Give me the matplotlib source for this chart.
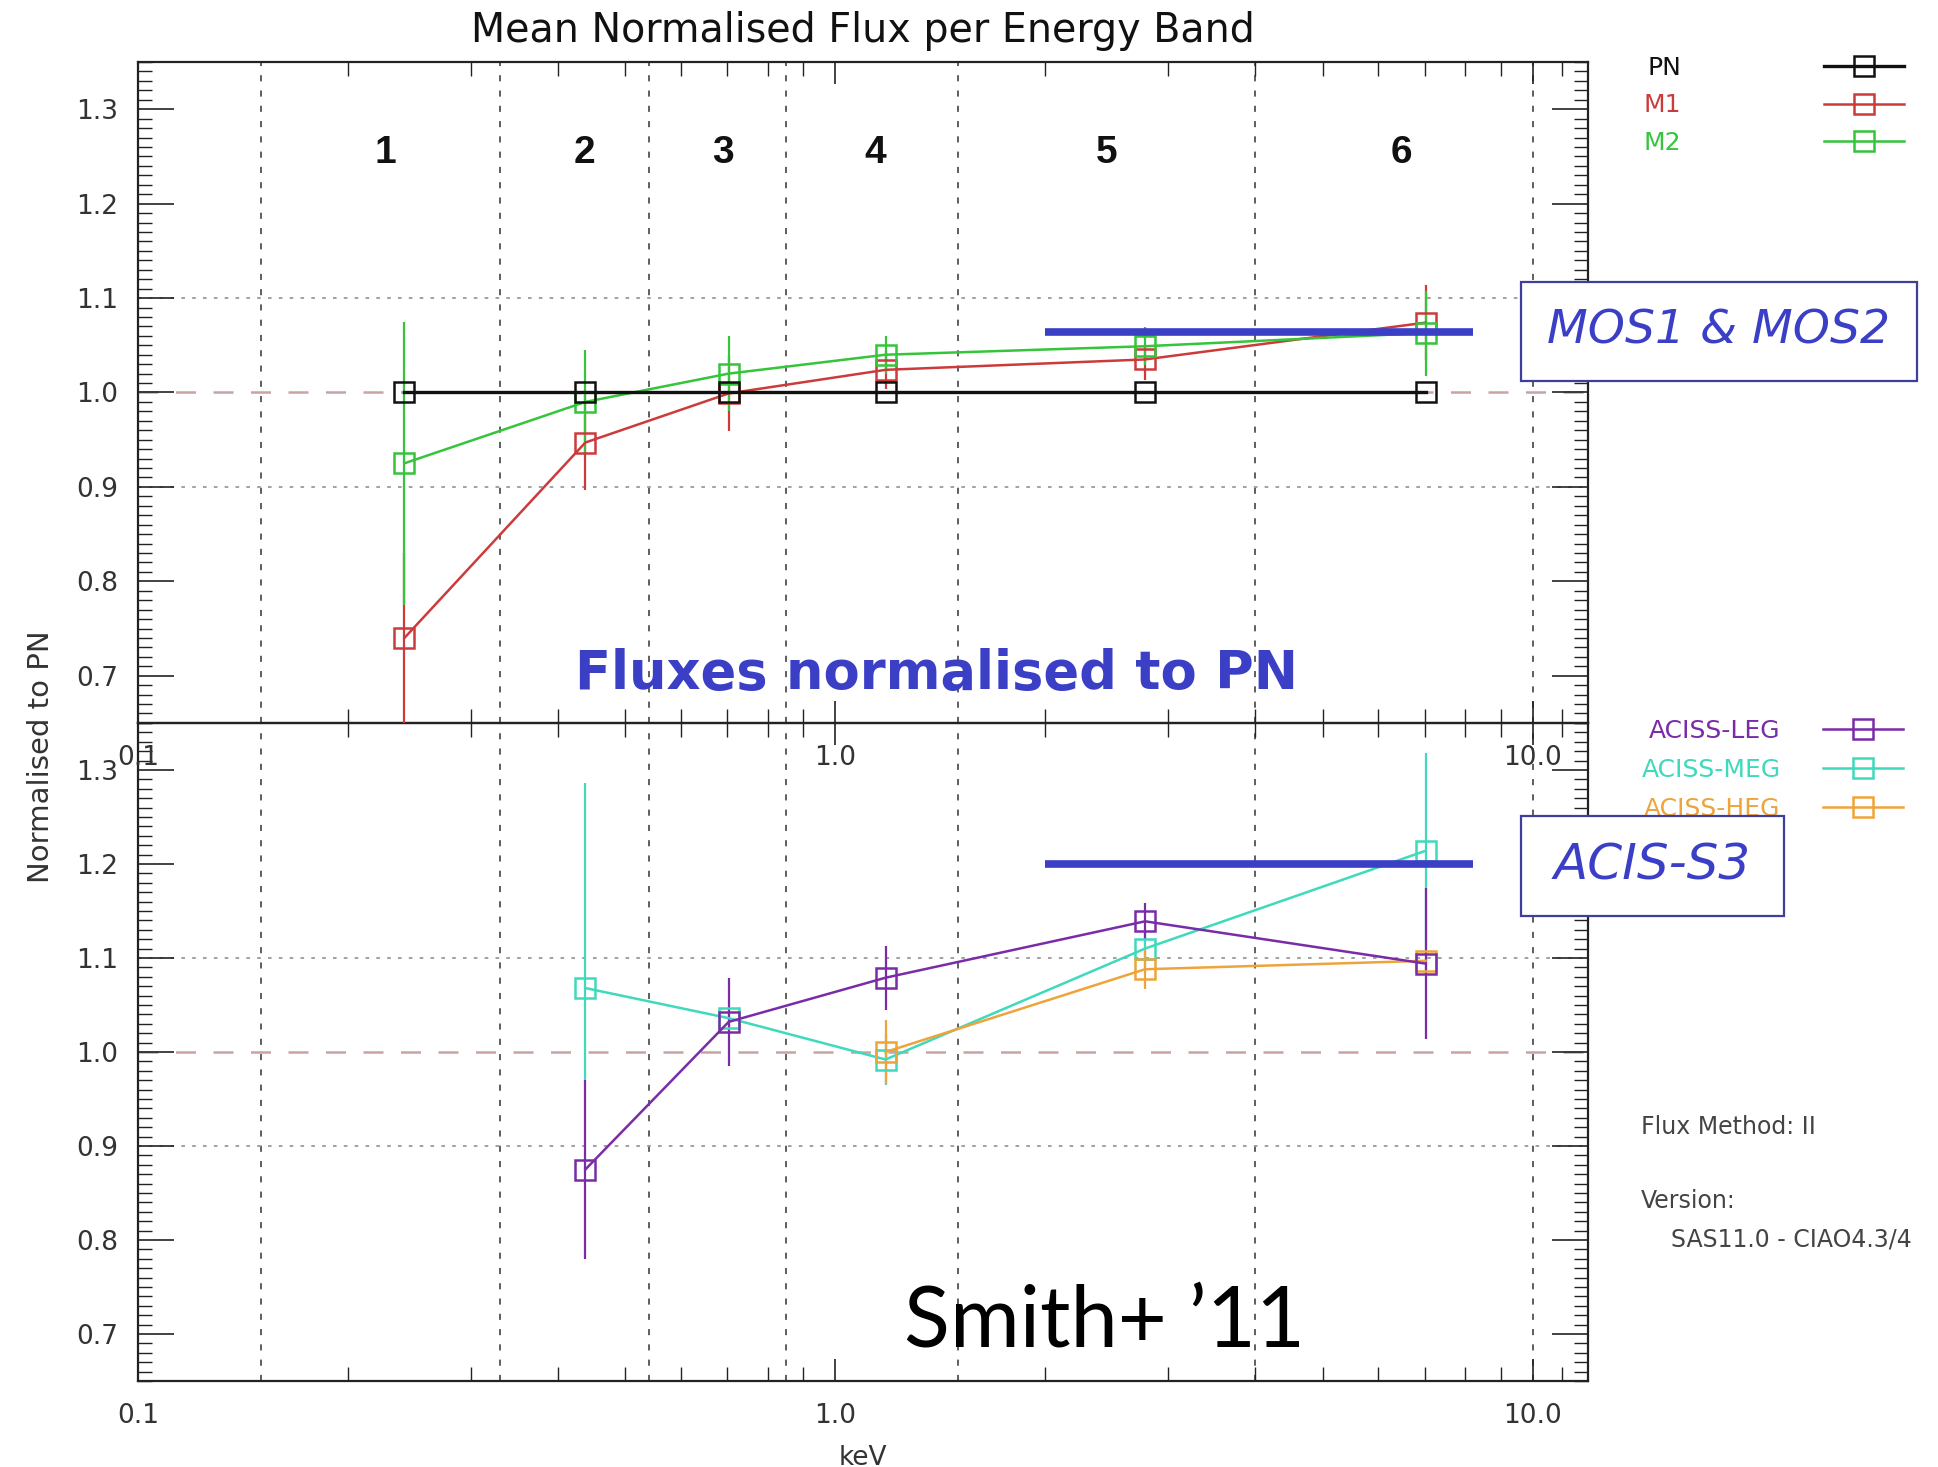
"""Mean normalised flux per energy band (XMM / Chandra cross-calibration)."""

import matplotlib

matplotlib.use("Agg")

import matplotlib.pyplot as plt
from matplotlib.patches import Rectangle
from matplotlib.ticker import FixedLocator, FormatStrFormatter, MultipleLocator, NullFormatter


# --- data ------------------------------------------------------------------
band_edges = [0.15, 0.33, 0.54, 0.85, 1.5, 4.0, 10.0]
band_names = ["1", "2", "3", "4", "5", "6"]
band_label_kev = [0.226, 0.437, 0.69, 1.14, 2.45, 6.47]

energy = [0.241, 0.438, 0.703, 1.18, 2.78, 7.02]

pn_ratio = [1.0, 1.0, 1.0, 1.0, 1.0, 1.0]
m1_ratio = [0.740, 0.947, 0.999, 1.024, 1.035, 1.074]
m1_err_lo = [0.15, 0.05, 0.04, 0.02, 0.022, 0.04]
m1_err_hi = [0.09, 0.05, 0.04, 0.02, 0.015, 0.04]
m2_ratio = [0.925, 0.990, 1.020, 1.040, 1.049, 1.063]
m2_err = [0.15, 0.055, 0.04, 0.02, 0.02, 0.045]

acis_energy = energy[1:]
leg_ratio = [0.875, 1.032, 1.079, 1.139, 1.094]
leg_err = [0.095, 0.047, 0.034, 0.02, 0.08]
meg_ratio = [1.068, 1.036, 0.992, 1.110, 1.214]
meg_err_lo = [0.098, 0.01, 0.027, 0.02, 0.104]
meg_err_hi = [0.218, 0.01, 0.027, 0.02, 0.104]
heg_energy = energy[3:]
heg_ratio = [1.000, 1.088, 1.097]
heg_err = [0.034, 0.021, 0.01]

highlight_span = [2.0, 8.2]
mos_level = 1.064
acis_level = 1.2

x_ticks = [0.1, 1.0, 10.0]
x_ticklabels = ["0.1", "1.0", "10.0"]

BLUE = "#3b3fc6"
TEXT_GREY = "#333333"


def style_axis(ax):
    ax.set_xscale("log")
    ax.set_xlim(0.1, 12.0)
    ax.set_ylim(0.65, 1.35)
    ax.xaxis.set_major_locator(FixedLocator(x_ticks))
    ax.xaxis.set_minor_locator(FixedLocator([m * d for d in (0.1, 1.0) for m in range(2, 10)] + [11.0]))
    ax.xaxis.set_minor_formatter(NullFormatter())
    ax.set_xticklabels(x_ticklabels)
    ax.yaxis.set_major_locator(MultipleLocator(0.1))
    ax.yaxis.set_minor_locator(MultipleLocator(0.01))
    ax.yaxis.set_major_formatter(FormatStrFormatter("%.1f"))
    ax.tick_params(which="both", direction="in", top=True, right=True, colors="#222222",
                   labelcolor=TEXT_GREY, labelsize=19)
    ax.tick_params(axis="y", which="major", length=26, width=1.2, pad=14)
    ax.tick_params(axis="y", which="minor", length=10, width=1.0)
    ax.tick_params(axis="x", which="major", length=16, width=1.2, pad=16)
    ax.tick_params(axis="x", which="minor", length=10, width=1.0)
    for spine in ax.spines.values():
        spine.set_linewidth(1.6)
        spine.set_color("#222222")
    for edge in band_edges:
        ax.axvline(edge, color="#333333", lw=1.1, linestyle=(0, (4, 6)), zorder=1)
    for level in (0.9, 1.1):
        ax.axhline(level, color="#9a9a9a", lw=1.3, linestyle=(0, (2, 4)), zorder=1)
    ax.axhline(1.0, color="#c9a3a3", lw=1.8, linestyle=(0, (8, 7)), zorder=1)


def draw_series(ax, x, y, color, label, err=None, lw=1.8):
    if err is not None:
        ax.errorbar(x, y, yerr=err, fmt="none", ecolor=color, elinewidth=1.6, capsize=0, zorder=3)
    ax.plot(x, y, color=color, lw=lw, marker="s", markersize=14, markerfacecolor="none",
            markeredgecolor=color, markeredgewidth=1.8, label=label, zorder=4)


def main() -> None:
    plt.rcParams["font.family"] = ["DejaVu Sans"]
    fig = plt.figure(figsize=(19.38, 14.67), dpi=100)
    fig.patch.set_facecolor("white")

    left, width = 0.0712, 0.7482
    ax_bot = fig.add_axes([left, 0.0586, width, 0.4486])
    ax_top = fig.add_axes([left, 0.5072, width, 0.4505])
    ax_top.set_zorder(3)
    ax_top.patch.set_alpha(0.0)

    style_axis(ax_top)
    style_axis(ax_bot)

    # top panel: EPIC cameras normalised to PN
    draw_series(ax_top, energy, m1_ratio, "#cc3b3b", "M1", err=[m1_err_lo, m1_err_hi])
    draw_series(ax_top, energy, m2_ratio, "#35c43a", "M2", err=m2_err)
    draw_series(ax_top, energy, pn_ratio, "#111111", "PN", lw=2.4)
    ax_top.plot(highlight_span, [mos_level, mos_level], color=BLUE, lw=5.5, solid_capstyle="butt", zorder=5)
    for name, xk in zip(band_names, band_label_kev):
        ax_top.text(xk, 1.254, name, ha="center", va="center", fontsize=28, fontweight="bold",
                    family=["Liberation Sans Narrow", "Liberation Sans"], color="#111111")

    # bottom panel: Chandra ACIS-S3 gratings
    draw_series(ax_bot, acis_energy, meg_ratio, "#3fd9bb", "ACISS-MEG", err=[meg_err_lo, meg_err_hi])
    draw_series(ax_bot, heg_energy, heg_ratio, "#eea43a", "ACISS-HEG", err=heg_err)
    draw_series(ax_bot, acis_energy, leg_ratio, "#7a2ca8", "ACISS-LEG", err=leg_err)
    ax_bot.plot(highlight_span, [acis_level, acis_level], color=BLUE, lw=5.5, solid_capstyle="butt", zorder=5)
    ax_bot.set_xlabel("keV", fontsize=19, color=TEXT_GREY, labelpad=11)

    fig.text(0.0212, 0.484, "Normalised to PN", rotation=90, ha="center", va="center",
             fontsize=21, color=TEXT_GREY)
    fig.text(0.4455, 0.979, "Mean Normalised Flux per Energy Band", ha="center", va="center",
             fontsize=28.5, color="#111111")

    # legends (label first, symbol after, coloured text)
    top_lines = {h.get_label(): h for h in ax_top.get_lines()}
    top_order = ["PN", "M1", "M2"]
    fig.legend([top_lines[k] for k in top_order], top_order,
               loc="upper left", bbox_to_anchor=(0.848, 0.962), frameon=False, markerfirst=False,
               labelcolor="linecolor", fontsize=18, handlelength=3.2, handletextpad=5.7,
               labelspacing=0.55, borderpad=0, borderaxespad=0, numpoints=1)
    bot_lines = {h.get_label(): h for h in ax_bot.get_lines()}
    bot_order = ["ACISS-LEG", "ACISS-MEG", "ACISS-HEG"]
    fig.legend([bot_lines[k] for k in bot_order], bot_order,
               loc="upper left", bbox_to_anchor=(0.847, 0.510), frameon=False, markerfirst=False,
               labelcolor="linecolor", fontsize=18, handlelength=3.2, handletextpad=1.7,
               labelspacing=0.6, borderpad=0, borderaxespad=0, numpoints=1)

    fig.text(0.8467, 0.232, "Flux Method: II", fontsize=17, color="#444444", va="center")
    fig.text(0.8467, 0.181, "Version:", fontsize=17, color="#444444", va="center")
    fig.text(0.8622, 0.155, "SAS11.0 - CIAO4.3/4", fontsize=17, color="#444444", va="center")

    # slide annotations
    for (x0, y0, w, h), label, size in [((0.7848, 0.7403, 0.2043, 0.0675), "MOS1 & MOS2", 34),
                                        ((0.7848, 0.3756, 0.1357, 0.0682), "ACIS-S3", 36)]:
        fig.add_artist(Rectangle((x0, y0), w, h, transform=fig.transFigure, facecolor="white",
                                 edgecolor="#3d3f9a", lw=1.6, zorder=6))
        fig.text(x0 + w / 2, y0 + h / 2, label, ha="center", va="center", fontsize=size,
                 style="italic", color=BLUE, zorder=7)
    fig.text(0.483, 0.5405, "Fluxes normalised to PN", ha="center", va="center", fontsize=38,
             fontweight="bold", color=BLUE, zorder=7)
    fig.text(0.570, 0.0985, "Smith+ \u201911", ha="center", va="center", fontsize=61,
             family=["Lato", "DejaVu Sans"], color="black", zorder=7)

    fig.savefig("out.png", dpi=100, facecolor="white")
    plt.close(fig)


if __name__ == "__main__":
    main()
